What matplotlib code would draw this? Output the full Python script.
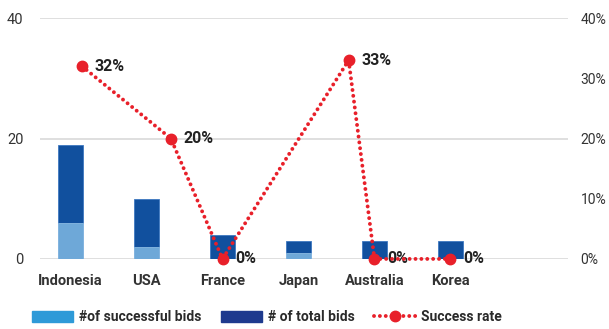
import matplotlib.pyplot as plt
from matplotlib.patches import Patch
from matplotlib.lines import Line2D
import numpy as np

plt.rcParams['font.family'] = ['Roboto', 'DejaVu Sans']

countries = ['Indonesia', 'USA', 'France', 'Japan', 'Australia', 'Korea']
successful_bids = [6, 2, 0, 1, 0, 0]
total_bids = [19, 10, 4, 3, 3, 3]
success_rate = [0.32, 0.20, 0.0, 0.33, 0.0, 0.0]
rate_labels = ['32%', '20%', '0%', '33%', '0%', '0%']

# the rate points sit a bit to the right of some bars in the original
rate_shift = [0.15, 0.32, 0.0, 0.66, 0.0, 0.0]

light_blue = '#6EA8D8'
dark_blue = '#11509E'
red = '#E8202A'
dots = (0, (0.01, 1.5))

fig = plt.figure(figsize=(6.09, 3.29), dpi=100)
ax = fig.add_axes([0.066, 0.213, 0.867, 0.732])

x = np.arange(len(countries))
width = 0.32
ax.bar(x, total_bids, width, color=dark_blue, edgecolor='#3D78C0',
       linewidth=0.6, zorder=2)
ax.bar(x, successful_bids, width, color=light_blue, edgecolor='#8BBBE3',
       linewidth=0.6, zorder=3)

ax.set_ylim(0, 40)
ax.set_yticks([0, 20, 40])
ax.set_xlim(-0.4, 6.55)
ax.set_xticks(x)
ax.set_xticklabels(countries, fontweight='bold', fontsize=10.5, color='#2A2A2A')
ax.tick_params(axis='both', length=0, labelsize=10.5, labelcolor='#333333')
ax.tick_params(axis='y', pad=12)
ax.tick_params(axis='x', pad=11)
ax.grid(axis='y', color='#D9D9D9', linewidth=1.2, zorder=0)
for s in ax.spines.values():
    s.set_visible(False)

ax2 = ax.twinx()
line_x = x + np.array(rate_shift)
ax2.plot(line_x, success_rate, linestyle=dots, dash_capstyle='round',
         color=red, linewidth=2.8, marker='o', markersize=7.5,
         clip_on=False, zorder=5)
ax2.set_ylim(0, 0.4)
ax2.set_yticks([0, 0.1, 0.2, 0.3, 0.4])
ax2.set_yticklabels(['0%', '10%', '20%', '30%', '40%'])
ax2.tick_params(axis='y', length=0, labelsize=10, labelcolor='#333333', pad=9)
for s in ax2.spines.values():
    s.set_visible(False)

for xi, yi, lab in zip(line_x, success_rate, rate_labels):
    ax2.annotate(lab, (xi, yi), xytext=(9, 0), textcoords='offset points',
                 ha='left', va='center', fontsize=11.5, fontweight='bold',
                 color='#222222')

handles = [Patch(color='#2E9AD8'), Patch(color='#1E3A8E'),
           Line2D([0], [0], color=red, linestyle=dots, dash_capstyle='round',
                  linewidth=2.8, marker='o', markersize=7.5)]
labels = ['#of successful bids', '# of total bids', 'Success rate']
leg = fig.legend(handles, labels, loc='center', ncol=3, frameon=False,
                 bbox_to_anchor=(0.438, 0.035), handlelength=3.0,
                 handleheight=0.9, handletextpad=0.4, columnspacing=1.4,
                 prop={'weight': 'bold', 'size': 10})
for t in leg.get_texts():
    t.set_color('#2A2A2A')

fig.savefig('out.png', dpi=100)
